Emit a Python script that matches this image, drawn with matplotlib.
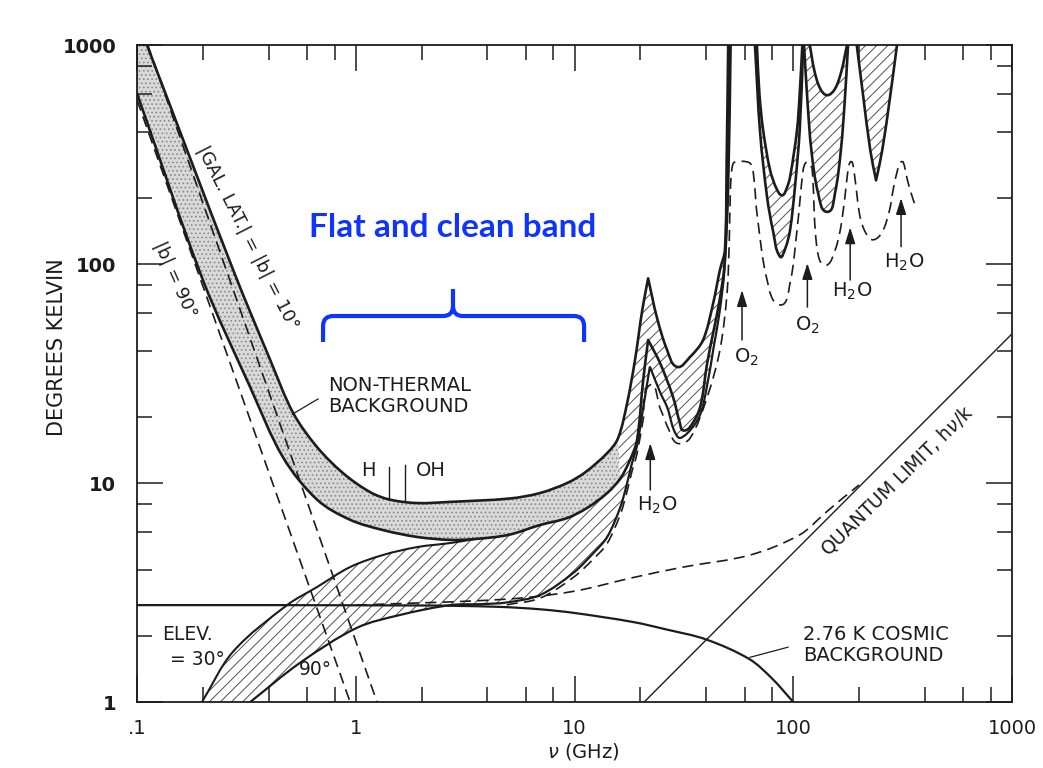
import numpy as np
import matplotlib
matplotlib.use('Agg')
import matplotlib.pyplot as plt
from matplotlib.ticker import LogLocator, FixedLocator, FixedFormatter, NullFormatter
from matplotlib.path import Path
from matplotlib.patches import PathPatch

plt.rcParams['font.family'] = ['DejaVu Sans']
plt.rcParams['hatch.linewidth'] = 0.7
plt.rcParams['lines.scale_dashes'] = False

# ---------------- data: frequency (GHz) and temperature (K) ----------------
# upper edge of the non-thermal band (|b| = 10 deg)
upper_nu = [0.111, 0.275, 0.406, 0.517, 0.665, 0.874, 1.16, 1.43, 1.91, 2.70, 5.07, 6.95,
            9.25, 11.2, 14.1, 15.8, 17.4, 18.9, 20.4, 21.7, 23.8, 26.5, 29.4, 33.7, 38.7,
            43.0, 46.2, 48.7, 49.6, 50.4]
upper_T = [1000, 94, 36.5, 20.9, 14.6, 11.1, 9.1, 8.4, 8.1, 8.2, 8.5, 9.0,
           10.0, 11.2, 13.7, 16.0, 23.2, 36.5, 61.6, 86, 57, 40.5, 33.9, 37.6, 45,
           66, 94, 116, 300, 1000]
# lower edge of the non-thermal band (|b| = 90 deg)
lower_nu = [0.1, 0.2, 0.329, 0.465, 0.665, 0.94, 1.33, 1.91, 2.7, 3.5, 5.0, 6.95, 9.25,
            11.4, 14.1, 16.2, 17.9, 19.3, 20.6, 21.7, 24.6, 28.2, 30.3, 31.3, 33.7, 37.5,
            40.4, 43.3, 46.0, 48.5, 50.0, 51.0]
lower_T = [600, 84.5, 27.4, 13.1, 8.4, 6.8, 6.1, 5.67, 5.5, 5.55, 5.8, 6.43, 6.92,
           7.69, 9.0, 10.5, 12.7, 15.7, 29.6, 45, 35.3, 24.7, 18.8, 17.4, 18.0, 22.2,
           35.3, 50, 68, 100, 250, 1000]
# atmosphere band, elevation 30 deg (upper) and 90 deg (lower)
elev30_nu = [0.198, 0.275, 0.485, 0.665, 0.94, 1.33, 1.91, 2.70, 3.5]
elev30_T = [1.0, 1.7, 2.77, 3.35, 4.13, 4.69, 5.1, 5.32, 5.55]
elev90_nu = [0.329, 0.556, 1.01, 1.6, 2.7, 3.8, 4.91, 6.95, 9.85, 12.2, 14.1, 16.2, 17.4,
             18.3, 19.3, 20.6, 22.1, 24.6, 26.5, 29.7, 33.0, 37.5, 40.4, 43.3, 46.0, 48.5,
             50.5, 51.8]
elev90_T = [1.0, 1.51, 2.18, 2.5, 2.77, 2.8, 2.85, 3.08, 3.88, 4.79, 5.67, 7.77, 10.0,
            12.3, 14.8, 22, 34, 26, 22.2, 16.2, 17.0, 20.5, 28, 42, 60, 95, 230, 1000]
# absorption windows above 60 GHz
win1_hi_nu = [68.2, 70.0, 72.8, 78.3, 84, 88.9, 93, 96.7, 104, 107, 110]
win1_hi_T = [1000, 600, 409, 269, 220, 206, 220, 250, 409, 600, 1000]
win1_lo_nu = [66.8, 70.5, 75.9, 81, 87, 92, 96.7, 102, 107, 111]
win1_lo_T = [1000, 400, 202, 140, 108, 118, 143, 230, 409, 1000]
win2_hi_nu = [119, 125, 133, 143, 155, 166, 176]
win2_hi_T = [1000, 760, 630, 590, 630, 760, 1000]
win2_lo_nu = [112, 116, 121, 130, 143, 155, 165, 172, 178]
win2_lo_T = [1000, 560, 330, 210, 173, 210, 330, 560, 1000]
win3_lo_nu = [195, 209, 225, 239, 255, 277, 298]
win3_lo_T = [1000, 579, 330, 241, 330, 579, 1000]
# dashed atmospheric curve
atm_nu = [4.9, 6.95, 9.85, 12.2, 14.1, 16.2, 17.4, 18.3, 19.3, 20.6, 22.1, 24.6, 27.0, 29.4,
          33.7, 40.4, 46.2, 49.8, 51.0, 51.6, 52.5, 54.0, 62.0, 64.7, 66.5, 68.2, 75.9, 87.0,
          96.7, 104, 111, 114, 118, 122, 126, 132, 143, 155, 164, 172, 178, 182, 186, 191,
          202, 215, 232, 255, 275, 286, 300, 310, 318, 330, 342, 360]
atm_T = [2.78, 2.98, 3.7, 4.5, 5.3, 7.2, 9.2, 11.3, 13.6, 19.5, 28, 22, 17.5, 15.2,
         16.0, 24.7, 40.5, 73.7, 130, 220, 275, 292, 292, 280, 230, 171, 84.5, 65,
         82, 143, 269, 290, 290, 269, 143, 104, 99, 115, 143, 200, 270, 292, 292, 250,
         164, 138, 129, 140, 175, 218, 270, 292, 292, 250, 218, 186]
# galactic non-thermal emission alone
gal10_nu = [0.112, 1.25]
gal10_T = [1000, 1]
gal90_nu = [0.1, 0.942]
gal90_T = [560, 1]
# 2.76 K cosmic background
cmb_nu = [0.1, 2, 4.5, 7, 10, 18.5, 26, 40, 63, 80, 100]
cmb_T = [2.77, 2.76, 2.72, 2.65, 2.55, 2.32, 2.15, 1.93, 1.57, 1.28, 1.0]
# quantum limit h nu / k
quant_nu = [20.8, 1000]
quant_T = [1.0, 48]
# cosmic background + quantum limit
cq_nu = [1.0, 4.9, 9.85, 18.5, 31.3, 63.4, 107, 140, 170, 200]
cq_T = [2.77, 2.95, 3.2, 3.7, 4.13, 4.69, 5.8, 7.3, 8.6, 9.8]
# spectral lines marked with arrows
mol_nu = [22.2, 58.3, 116, 182, 311]
mol_tail = [9.3, 45, 63.6, 84.5, 120]
mol_head = [15.2, 76, 101, 147, 200]
mol_names = ['H$_\\mathregular{2}$O', 'O$_\\mathregular{2}$', 'O$_\\mathregular{2}$',
             'H$_\\mathregular{2}$O', 'H$_\\mathregular{2}$O']
mol_lab_nu = [23.8, 60.8, 116, 186, 321]
mol_lab_T = [7.9, 37.6, 52.6, 74.8, 102]

x_ticks = [0.1, 1, 10, 100, 1000]
x_labels = ['.1', '1', '10', '100', '1000']
y_ticks = [1, 10, 100, 1000]
y_labels = ['1', '10', '100', '1000']

XMIN, XMAX, YMIN, YMAX = 0.1, 1000, 1, 1000
INK = '#1c1c1c'
BLUE = '#1034ff'


# ---------------- smooth drawing helpers (Bezier through the read points) ----------------
def bezier_segments(xs, ys, corners=()):
    P = np.column_stack([np.log10(xs), np.log10(ys)])
    n = len(P)

    def unit(v):
        l = np.hypot(*v)
        return v / l if l > 0 else v * 0

    tin = np.zeros_like(P)
    tout = np.zeros_like(P)
    for i in range(n):
        if i == 0:
            tin[i] = tout[i] = unit(P[1] - P[0])
        elif i == n - 1:
            tin[i] = tout[i] = unit(P[-1] - P[-2])
        elif xs[i] in corners:
            tin[i] = unit(P[i] - P[i - 1])
            tout[i] = unit(P[i + 1] - P[i])
        else:
            tin[i] = tout[i] = unit(P[i + 1] - P[i - 1])
    segs = []
    for i in range(n - 1):
        L = np.hypot(*(P[i + 1] - P[i])) / 3.0
        segs.append((P[i], P[i] + tout[i] * L, P[i + 1] - tin[i + 1] * L, P[i + 1]))
    return segs


def piece(segs, i0=0, i1=None, reverse=False):
    sel = segs[i0:i1]
    if reverse:
        sel = [(d, c, b, a) for (a, b, c, d) in sel[::-1]]
    verts = [sel[0][0]]
    codes = [Path.LINETO]
    for a, b, c, d in sel:
        verts += [b, c, d]
        codes += [Path.CURVE4] * 3
    return verts, codes


def point(x, y):
    return [np.array([np.log10(x), np.log10(y)])], [Path.LINETO]


def build(pieces, close=False):
    verts, codes = [], []
    for v, c in pieces:
        verts += v
        codes += c
    codes[0] = Path.MOVETO
    if close:
        verts.append(verts[0])
        codes.append(Path.CLOSEPOLY)
    return Path(10 ** np.array(verts), codes)


def draw_curve(ax, segs, **kw):
    ax.add_patch(PathPatch(build([piece(segs)]), fill=False, transform=ax.transData, **kw))


fig = plt.figure(figsize=(10.43, 7.68), dpi=100)
ax = fig.add_axes([0.1314, 0.0859, 0.8389, 0.8555])
ax.set_xscale('log')
ax.set_yscale('log')
ax.set_xlim(XMIN, XMAX)
ax.set_ylim(YMIN, YMAX)

S_up = bezier_segments(upper_nu, upper_T, corners={21.7})
S_lo = bezier_segments(lower_nu, lower_T, corners={21.7})
S_e30 = bezier_segments(elev30_nu, elev30_T)
S_e90 = bezier_segments(elev90_nu, elev90_T, corners={22.1})
S_w1h = bezier_segments(win1_hi_nu, win1_hi_T)
S_w1l = bezier_segments(win1_lo_nu, win1_lo_T)
S_w2h = bezier_segments(win2_hi_nu, win2_hi_T)
S_w2l = bezier_segments(win2_lo_nu, win2_lo_T)
S_w3l = bezier_segments(win3_lo_nu, win3_lo_T, corners={239})
S_atm = bezier_segments(atm_nu, atm_T)
S_cmb = bezier_segments(cmb_nu, cmb_T)
S_cq = bezier_segments(cq_nu, cq_T)

# ---------------- fills ----------------
iu = upper_nu.index(15.8)
il = lower_nu.index(16.2)
stip = build([point(XMIN, YMAX), piece(S_up, 0, iu), piece(S_lo, 0, il, reverse=True)], close=True)
ax.add_patch(PathPatch(stip, facecolor='#d9d9d9', edgecolor='#8a8a8a', hatch='....', lw=0,
                       transform=ax.transData, zorder=1))

hat = dict(facecolor='white', edgecolor='#505050', hatch='///', lw=0, transform=ax.transData, zorder=1)
ax.add_patch(PathPatch(build([piece(S_up, iu), piece(S_lo, il, reverse=True)], close=True), **hat))
i5 = lower_nu.index(5.0)
ax.add_patch(PathPatch(build([piece(S_e30), piece(S_lo, i5 - 1), piece(S_e90, reverse=True)],
                             close=True), **hat))
ax.add_patch(PathPatch(build([piece(S_w1h), piece(S_w1l, reverse=True)], close=True), **hat))
ax.add_patch(PathPatch(build([piece(S_w2h), piece(S_w2l, reverse=True)], close=True), **hat))
ax.add_patch(PathPatch(build([piece(S_w3l)], close=True), **hat))

# ---------------- lines ----------------
dash = dict(color=INK, lw=1.2, dashes=(8, 4.5), zorder=2)
ax.plot(gal10_nu, gal10_T, **dash)
ax.plot(gal90_nu, gal90_T, **dash)
dash_p = dict(edgecolor=INK, lw=1.2, linestyle=(0, (8, 4.5)), zorder=2)
draw_curve(ax, S_cq, **dash_p)
draw_curve(ax, S_atm, **dash_p)

thick = dict(edgecolor=INK, lw=1.9, zorder=3, joinstyle='round')
for S in [S_up, S_lo, S_w1h, S_w1l, S_w2h, S_w2l, S_w3l]:
    draw_curve(ax, S, **thick)
draw_curve(ax, S_e30, edgecolor=INK, lw=1.5, zorder=3)
draw_curve(ax, S_e90, edgecolor=INK, lw=1.6, zorder=3)
draw_curve(ax, S_cmb, edgecolor=INK, lw=1.6, zorder=3)
ax.plot(quant_nu, quant_T, color=INK, lw=1.0, zorder=3)

# H and OH marks
ax.plot([1.42, 1.42], [8.35, 11.8], color=INK, lw=1.0, zorder=3)
ax.plot([1.67, 1.67], [8.25, 12.1], color=INK, lw=1.0, zorder=3)

# ---------------- annotations ----------------
fs = 14
for nu, t0, t1, name, lx, ly in zip(mol_nu, mol_tail, mol_head, mol_names, mol_lab_nu, mol_lab_T):
    ax.annotate('', xy=(nu, t1), xytext=(nu, t0),
                arrowprops=dict(arrowstyle='-|>,head_length=0.7,head_width=0.22',
                                color=INK, lw=1.1, shrinkA=0, shrinkB=0, mutation_scale=14),
                zorder=4)
    ax.text(lx, ly, name, ha='center', va='center', fontsize=fs, color=INK)

ax.text(0.746, 25.0, 'NON-THERMAL\nBACKGROUND', ha='left', va='center', fontsize=fs,
        color=INK, linespacing=1.15)
ax.plot([0.672, 0.512], [24.2, 20.6], color=INK, lw=0.9, zorder=3)
ax.text(111, 1.82, '2.76 K COSMIC\nBACKGROUND', ha='left', va='center', fontsize=fs,
        color=INK, linespacing=1.15)
ax.plot([94.6, 63.4], [1.78, 1.60], color=INK, lw=0.9, zorder=3)
ax.text(1.14, 11.4, 'H', ha='center', va='center', fontsize=fs, color=INK)
ax.text(2.21, 11.4, 'OH', ha='center', va='center', fontsize=fs, color=INK)
ax.text(0.13, 2.04, 'ELEV.', ha='left', va='center', fontsize=13.5, color=INK)
ax.text(0.1415, 1.57, '= 30°', ha='left', va='center', fontsize=13.5, color=INK)
ax.text(0.652, 1.415, '90°', ha='center', va='center', fontsize=13.5, color=INK)
ax.text(0.320, 131, '|GAL. LAT.| = |b| = 10°', rotation=-63, rotation_mode='anchor',
        ha='center', va='center', fontsize=13, color=INK)
ax.text(0.149, 84.5, '|b| = 90°', rotation=-66, rotation_mode='anchor',
        ha='center', va='center', fontsize=13, color=INK)
ax.text(298, 10.3, 'QUANTUM LIMIT, h$\\nu$/k', rotation=44.5, rotation_mode='anchor',
        ha='center', va='center', fontsize=13.5, color=INK)

# blue brace and caption (axes fraction coordinates)
Lx, Rx, Cx = 0.2126, 0.5109, 0.3611
yh, yend, ytip = 0.5875, 0.548, 0.6286
rx, ry = 0.0114, 0.0152
verts = [(Lx, yend), (Lx, yh - ry), (Lx, yh), (Lx + rx, yh), (Cx - rx, yh), (Cx, yh), (Cx, yh + ry),
         (Cx, ytip),
         (Rx, yend), (Rx, yh - ry), (Rx, yh), (Rx - rx, yh), (Cx + rx, yh), (Cx, yh), (Cx, yh + ry)]
codes = [Path.MOVETO, Path.LINETO, Path.CURVE3, Path.CURVE3, Path.LINETO, Path.CURVE3, Path.CURVE3,
         Path.LINETO,
         Path.MOVETO, Path.LINETO, Path.CURVE3, Path.CURVE3, Path.LINETO, Path.CURVE3, Path.CURVE3]
ax.add_patch(PathPatch(Path(verts, codes), transform=ax.transAxes, fill=False,
                       edgecolor=BLUE, lw=3.0, capstyle='butt', joinstyle='round', zorder=5))
ax.text(0.3606, 0.7215, 'Flat and clean band', transform=ax.transAxes, ha='center', va='center',
        color=BLUE, fontsize=24, fontweight='bold', family=['Lato', 'DejaVu Sans'], zorder=5)

# ---------------- axes styling ----------------
for s in ax.spines.values():
    s.set_linewidth(1.3)
    s.set_color(INK)
ax.xaxis.set_major_locator(FixedLocator(x_ticks))
ax.xaxis.set_major_formatter(FixedFormatter(x_labels))
ax.yaxis.set_major_locator(FixedLocator(y_ticks))
ax.yaxis.set_major_formatter(FixedFormatter(y_labels))
ax.xaxis.set_minor_locator(LogLocator(base=10, subs=[2, 4, 6, 8]))
ax.yaxis.set_minor_locator(LogLocator(base=10, subs=[2, 4, 6, 8]))
ax.xaxis.set_minor_formatter(NullFormatter())
ax.yaxis.set_minor_formatter(NullFormatter())
ax.tick_params(which='major', direction='in', length=19, width=1.1, top=True, right=True,
               labelsize=14, color=INK, labelcolor=INK)
ax.tick_params(which='minor', direction='in', length=11, width=1.1, top=True, right=True, color=INK)
ax.tick_params(axis='x', which='major', pad=12)
ax.tick_params(axis='y', which='major', pad=15)
for lab in ax.get_yticklabels():
    lab.set_fontweight('bold')

ax.text(-0.0914, 0.54, 'DEGREES KELVIN', rotation=90, transform=ax.transAxes,
        ha='center', va='center', fontsize=15, color=INK)
ax.text(0.5097, -0.076, '$\\nu$ (GHz)', transform=ax.transAxes, ha='center', va='center',
        fontsize=14, color=INK)

fig.savefig('out.png', dpi=100, facecolor='white')
